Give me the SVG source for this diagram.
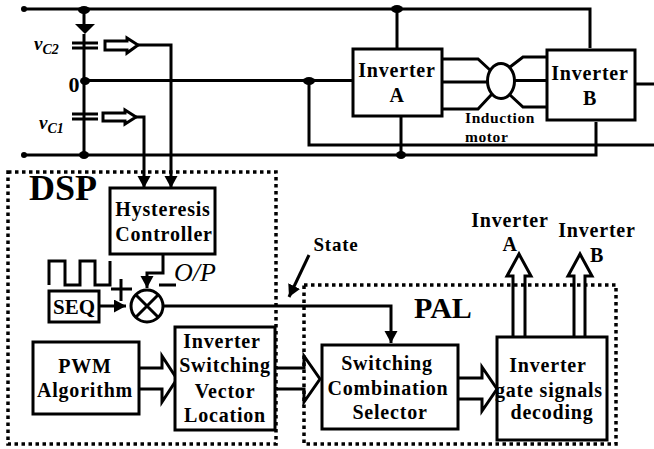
<svg xmlns="http://www.w3.org/2000/svg" width="654" height="449" viewBox="0 0 654 449">
<style>
.w{fill:none;stroke:#000;stroke-width:3;stroke-linejoin:miter}
.box{fill:#fff;stroke:#000;stroke-width:3}
.dash{fill:none;stroke:#000;stroke-width:3.5;stroke-dasharray:3.5 3.5}
.d{fill:#000}
text{font-family:"Liberation Serif","Times New Roman",serif;font-weight:bold;fill:#000;text-anchor:middle;font-size:20px;letter-spacing:.8px}
.i{font-style:italic}
</style>
<defs>
<marker id="a" markerUnits="userSpaceOnUse" markerWidth="14" markerHeight="14" refX="12" refY="6.5" orient="auto"><path d="M0 0L12 6.500L0 13z"/></marker>
</defs>
<g id="connectors">
<path class="w" d="M24 9H590V48M24 155H596V122M84 9V24M84 34V155M84 80.500H352M309 81V145H654M397 9V49M401 116V155M635 84H654"/>
<path class="d" d="M75 24H95L85 34z"/>
<path class="w" d="M72 43H98M72 48H98M72 114H98M72 119H98"/>
<path class="w" d="M138 45H171V188" marker-end="url(#a)"/>
<path class="w" d="M136 117H144V188" marker-end="url(#a)"/>
<path class="w" d="M105 41H127V38L138 45L127 53V50H105z" style="fill:#fff"/>
<path class="w" d="M103 113H125V110L136 117L125 124V121H103z" style="fill:#fff"/>
<g class="d"><circle cx="24" cy="9" r="3"/><circle cx="24" cy="155" r="3"/><ellipse cx="84" cy="10" rx="6" ry="4"/><ellipse cx="85" cy="81" rx="5" ry="4"/><ellipse cx="84" cy="155" rx="5" ry="4"/><ellipse cx="309" cy="81" rx="6" ry="4"/><ellipse cx="397" cy="9" rx="6" ry="4"/><ellipse cx="401" cy="155" rx="5" ry="4"/></g>
<path class="w" d="M442 59H478L490 70M442 82H488M442 109H478L492 94M547 57H523L510 67M515 80.500H547M547 107H523L510 95"/>
<path class="w" d="M163 254V273H147V288" marker-end="url(#a)"/>
<path class="w" d="M99 306H126" marker-end="url(#a)"/>
<path class="w" d="M163 306H391V343" marker-end="url(#a)"/>
<path class="w" d="M49 285V261H65V285H80V261H95V285H110V261"/>
<path class="w" d="M139 368H162V356L177 379L162 402V389H139"/>
<path class="w" d="M277 368H304V356L320 379L304 402V389H277"/>
<path class="w" d="M458 378H482V367L497 389L482 411V399H458"/>
<path class="w" d="M513 337V276H507L519 254L531 276H525V337"/>
<path class="w" d="M574 337V276H568L580 254L592 276H585V337"/>
<path class="w" d="M309 255L289 297" marker-end="url(#a)"/>
<path class="w" d="M111 289H132M121 279V301M159 285H176"/>
</g>
<g id="dsp-frame"><rect class="dash" x="8" y="172" width="268" height="272"/></g>
<g id="pal-frame"><rect class="dash" x="304" y="285" width="312" height="159"/></g>
<g id="inverter-a"><rect class="box" x="353" y="49" width="89" height="67"/><text x="397" y="77">Inverter</text><text x="397" y="102">A</text></g>
<g id="inverter-b"><rect class="box" x="547" y="50" width="88" height="70"/><text x="590" y="80">Inverter</text><text x="590" y="105">B</text></g>
<g id="motor"><ellipse cx="501" cy="81" rx="13.500" ry="17.500" fill="#fff" stroke="#000" stroke-width="3"/><text x="465" y="123" style="font-size:15.500px;text-anchor:start;letter-spacing:.6px">Induction</text><text x="465" y="142" style="font-size:15.500px;text-anchor:start;letter-spacing:.6px">motor</text></g>
<g id="hysteresis"><rect class="box" x="110" y="188" width="105" height="66"/><text x="163" y="216">Hysteresis</text><text x="164" y="241">Controller</text></g>
<g id="seq"><rect class="box" x="49" y="291" width="50" height="31"/><text x="74" y="314" style="font-size:21px;letter-spacing:0">SEQ</text></g>
<g id="summer"><circle cx="147" cy="306" r="16" fill="#fff" stroke="#000" stroke-width="3"/><path class="w" d="M136 295L158 317M158 295L136 317"/></g>
<g id="pwm"><rect class="box" x="33" y="342" width="106" height="72"/><text x="85" y="373">PWM</text><text x="85" y="397">Algorithm</text></g>
<g id="vector"><rect class="box" x="175" y="327" width="100" height="103"/><text x="222" y="348">Inverter</text><text x="225" y="372">Switching</text><text x="225" y="398">Vector</text><text x="225" y="422">Location</text></g>
<g id="selector"><rect class="box" x="322" y="345" width="136" height="84"/><text x="387" y="370">Switching</text><text x="388" y="395">Combination</text><text x="390" y="419">Selector</text></g>
<g id="decoder"><rect class="box" x="497" y="337" width="110" height="103"/><text x="548" y="372">Inverter</text><text x="549" y="397">gate signals</text><text x="552" y="419">decoding</text></g>
<g id="labels">
<text x="63" y="200" style="font-size:36px;letter-spacing:0">DSP</text>
<text x="443" y="318" style="font-size:30px;letter-spacing:0">PAL</text>
<text x="336" y="251" style="font-size:19px">State</text>
<text x="510" y="227">Inverter</text>
<text x="510" y="251">A</text>
<text x="597" y="237">Inverter</text>
<text x="597" y="262">B</text>
<text x="74" y="92" style="font-size:22px;letter-spacing:0">0</text>
<text x="34" y="50" class="i" style="font-size:19px;text-anchor:start;letter-spacing:0">v<tspan dy="4" style="font-size:14px">C2</tspan></text>
<text x="39" y="129" class="i" style="font-size:19px;text-anchor:start;letter-spacing:0">v<tspan dy="4" style="font-size:14px">C1</tspan></text>
<text x="174" y="281" class="i" style="font-size:26px;font-weight:normal;text-anchor:start;letter-spacing:0">O/P</text>
</g>
</svg>
